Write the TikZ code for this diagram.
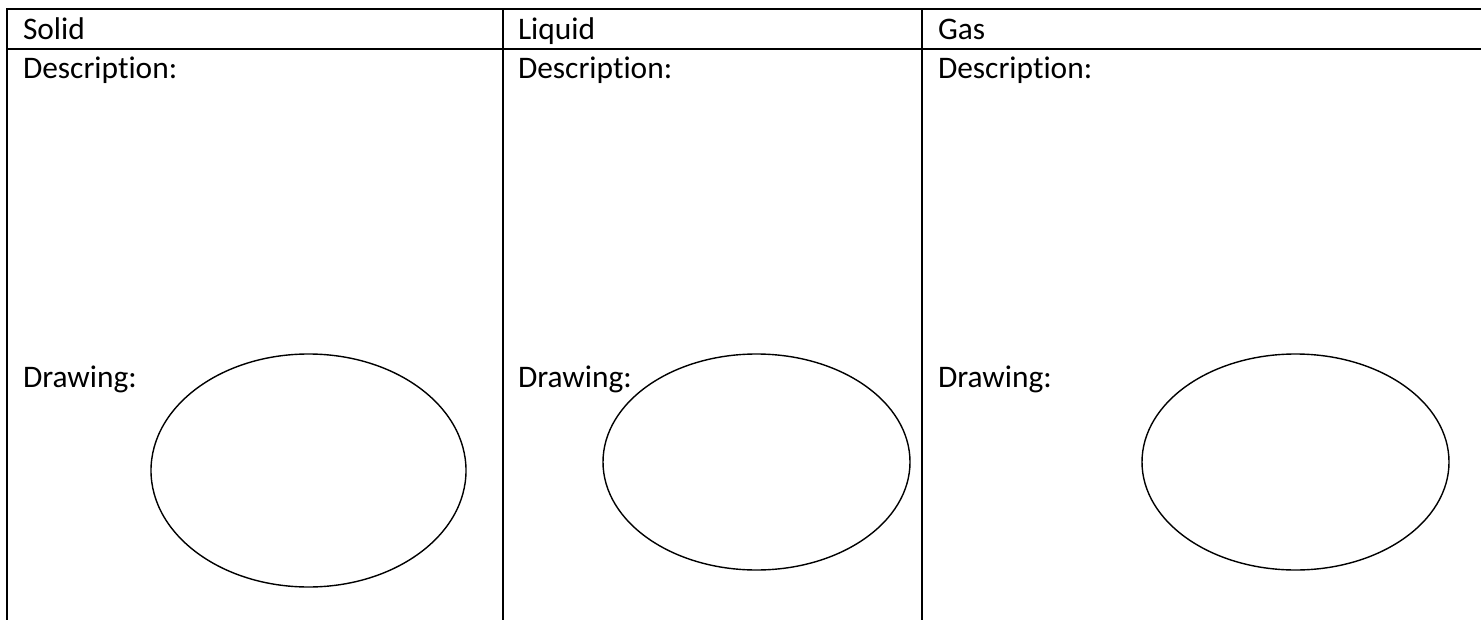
\documentclass[tikz,border=0pt]{standalone}
\usepackage{fontspec}
\setmainfont{Carlito}[Ligatures=NoCommon]
\usetikzlibrary{positioning}

\begin{document}
\begin{tikzpicture}[x=0.5pt,y=-0.5pt,font=\fontsize{15.7}{19}\selectfont]

\tikzset{gridline/.style={line width=1pt,line cap=rect},
labelnode/.style={anchor=base west,inner sep=0pt,outer sep=0pt},
sketchnode/.style={line width=0.7pt}}

\useasboundingbox (0,0) rectangle (1481,620);

% Table lines
\draw[gridline] (7,9) -- (1481,9);
\draw[gridline] (7,49) -- (1481,49);
\foreach \x in {7,503,922} \draw[gridline] (\x,9) -- (\x,621); % column borders

% Column headings
\node[labelnode] (solid) at (23,40) {Solid};
\node[labelnode] (liquid) at (518,40) {Liquid};
\node[labelnode] (gas) at (938,40) {Gas};

% Description and drawing labels
\foreach \x/\n in {23/s,518/l,938/g} {
\node[labelnode] (desc\n) at (\x,79) {Description:};
\node[labelnode] (draw\n) at (\x,387) {Drawing:};
}

% Drawing ellipses
\draw[sketchnode] (308.5,470.5) ellipse [x radius=78.75pt,y radius=58.25pt];
\draw[sketchnode] (756.5,462) ellipse [x radius=76.75pt,y radius=54pt];
\draw[sketchnode] (1295.5,462) ellipse [x radius=76.75pt,y radius=54pt];

\end{tikzpicture}
\end{document}
